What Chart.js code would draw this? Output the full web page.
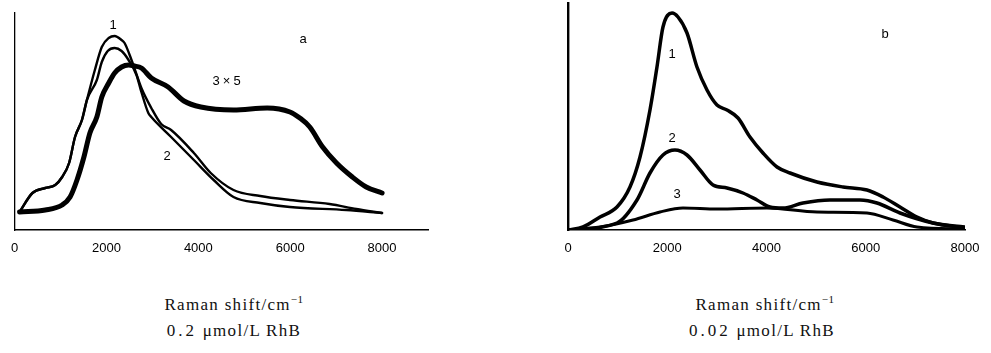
<!DOCTYPE html>
<html>
<head>
<meta charset="utf-8">
<script src="https://cdn.jsdelivr.net/npm/chart.js@4.4.1/dist/chart.umd.min.js"></script>
<style>
  html, body { margin: 0; padding: 0; background: #fff; }
  body { width: 991px; height: 353px; position: relative; overflow: hidden; }
  .cv { position: absolute; }
  .lbl { position: absolute; font-family: "Liberation Sans", Arial, sans-serif; font-size: 13px; color: #000; line-height: 1; transform: translate(-50%, -50%); white-space: nowrap; }
  .cap { position: absolute; font-family: "Liberation Serif", "Times New Roman", serif; font-size: 17px; color: #111; transform: translateX(-50%); white-space: nowrap; letter-spacing: 1.3px; line-height: 1; }
  .cap sup { font-size: 11px; vertical-align: 7px; letter-spacing: 0.5px; }
  .num { letter-spacing: 3px; }
</style>
</head>
<body>
<div class="cv" style="left:0;top:0;width:440px;height:260px;"><canvas id="ca"></canvas></div>
<div class="cv" style="left:540px;top:0;width:451px;height:260px;"><canvas id="cb"></canvas></div>

<div class="lbl" style="left:113px;top:24px;">1</div>
<div class="lbl" style="left:303px;top:38px;">a</div>
<div class="lbl" style="left:227px;top:80px;letter-spacing:1px;">3&#8202;&#215;&#8202;5</div>
<div class="lbl" style="left:167px;top:155px;">2</div>

<div class="lbl" style="left:885px;top:33px;">b</div>
<div class="lbl" style="left:672px;top:53px;">1</div>
<div class="lbl" style="left:672px;top:137px;">2</div>
<div class="lbl" style="left:677px;top:193px;">3</div>

<div class="cap" style="left:234px;top:294px;">Raman shift/cm<sup>&#8722;1</sup></div>
<div class="cap" style="left:234px;top:322px;"><span class="num">0.2</span> &#956;mol/L RhB</div>
<div class="cap" style="left:765px;top:294px;">Raman shift/cm<sup>&#8722;1</sup></div>
<div class="cap" style="left:762px;top:322px;"><span class="num">0.02</span> &#956;mol/L RhB</div>

<script>
// ---- Data (Raman shift in cm^-1, intensity in arbitrary units) ----
const xTicks = [0, 2000, 4000, 6000, 8000];

// Panel a: 0.2 umol/L RhB
const a1X = [108, 388, 668, 884, 1035, 1186, 1315, 1466, 1574, 1747, 1898, 2049, 2178, 2329, 2394, 2545, 2760, 2976, 3191, 3407, 3903, 4270, 4765, 5348, 5995, 6857, 7440, 8000];
const a1Y = [18, 37, 42, 45, 53, 67, 93, 110, 130, 160, 183, 192, 194, 190, 187, 170, 142, 122, 106, 100, 77, 57, 40, 34, 30, 26, 21, 17];

const a2X = [108, 388, 668, 884, 1035, 1186, 1315, 1466, 1574, 1790, 1898, 2027, 2178, 2329, 2480, 2653, 2760, 2911, 2976, 3407, 3903, 4334, 4765, 5348, 5995, 7224, 8000];
const a2Y = [18, 37, 42, 45, 53, 67, 93, 110, 130, 150, 168, 179, 182, 179, 170, 155, 138, 117, 113, 93, 70, 50, 33, 27, 23, 20, 17];

const a3X = [108, 668, 1035, 1208, 1358, 1509, 1639, 1790, 1898, 2049, 2178, 2329, 2480, 2609, 2760, 2976, 3342, 3687, 4054, 4765, 5499, 5995, 6210, 6426, 6706, 7008, 7353, 7655, 8000];
const a3Y = [18, 20, 25, 33, 50, 73, 97, 113, 133, 147, 157, 163, 165, 164, 162, 152, 143, 129, 123, 120, 122, 118, 112, 103, 83, 67, 53, 43, 37];

// Panel b: 0.02 umol/L RhB
const b1X = [0, 302, 645, 987, 1249, 1451, 1652, 1793, 1914, 2096, 2217, 2398, 2599, 2801, 3002, 3204, 3426, 3667, 3929, 4212, 4473, 5018, 5542, 6025, 6348, 6690, 7033, 7355, 8000];
const b1Y = [0, 3, 13, 23, 43, 73, 120, 163, 203, 217, 213, 197, 163, 140, 125, 120, 112, 93, 77, 63, 57, 48, 43, 40, 33, 23, 13, 7, 3];

const b2X = [0, 987, 1390, 1652, 1914, 2156, 2398, 2660, 2922, 3204, 3526, 3808, 4070, 4332, 4735, 5279, 5884, 6226, 6690, 7355, 8000];
const b2Y = [0, 7, 30, 57, 75, 80, 75, 60, 45, 42, 37, 30, 23, 22, 27, 30, 30, 27, 17, 7, 2];

const b3X = [0, 645, 1310, 1854, 2317, 3002, 4010, 5018, 6025, 6549, 7033, 8000];
const b3Y = [0, 3, 10, 18, 22, 21, 22, 18, 17, 10, 3, 1];

// ---- Helpers ----
function pts(xs, ys) { return xs.map((x, i) => ({ x: x, y: ys[i] })); }
function ds(xs, ys, w) {
  return { data: pts(xs, ys), borderColor: '#000', borderWidth: w, pointRadius: 0,
           fill: false, cubicInterpolationMode: 'monotone', borderCapStyle: 'round', borderJoinStyle: 'round' };
}
function makeChart(id, datasets, opt) {
  return new Chart(document.getElementById(id), {
    type: 'line',
    data: { datasets: datasets },
    options: {
      responsive: true, maintainAspectRatio: false, animation: false,
      layout: { padding: opt.padding },
      plugins: { legend: { display: false }, tooltip: { enabled: false } },
      scales: {
        x: {
          type: 'linear', min: 0, max: opt.xMax,
          afterBuildTicks: s => { s.ticks = xTicks.map(v => ({ value: v })); },
          afterFit: s => { s.height = 30; },
          grid: { display: false, drawTicks: false },
          border: { display: true, color: '#000', width: 1.6 },
          ticks: { color: '#000', padding: 11, maxRotation: 0, autoSkip: false,
                   font: { family: '"Liberation Sans", Arial, sans-serif', size: 13 },
                   callback: v => String(v) }
        },
        y: {
          min: 0, max: opt.yMax,
          afterFit: s => { s.width = 0; },
          grid: { display: false, drawTicks: false },
          border: { display: true, color: '#000', width: opt.yBorder },
          ticks: { display: false }
        }
      }
    }
  });
}

makeChart('ca', [ds(a1X, a1Y, 2.4), ds(a2X, a2Y, 2.4), ds(a3X, a3Y, 5)],
  { padding: { left: 12, right: 12, top: 13, bottom: 0 }, xMax: 9000, yMax: 217, yBorder: 1.3 });
makeChart('cb', [ds(b1X, b1Y, 3.5), ds(b2X, b2Y, 3.5), ds(b3X, b3Y, 3)],
  { padding: { left: 28, right: 26, top: 3, bottom: 0 }, xMax: 8000, yMax: 227, yBorder: 2.4 });
</script>
</body>
</html>
